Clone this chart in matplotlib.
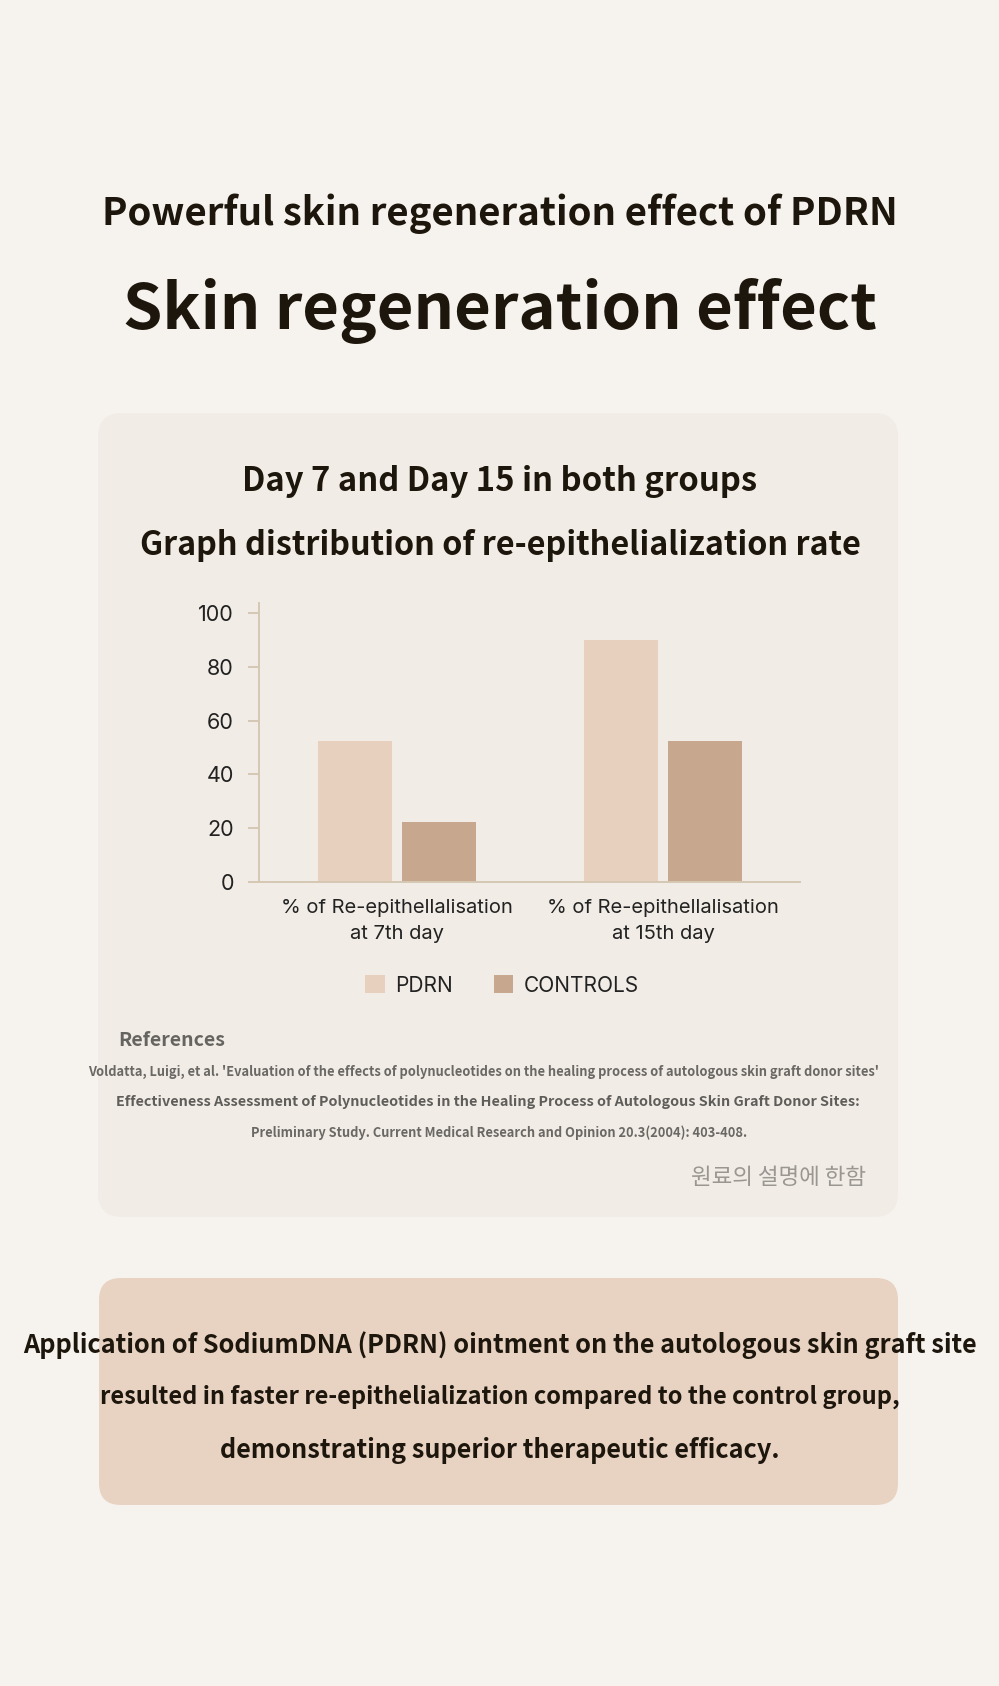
import matplotlib
matplotlib.use("Agg")
import matplotlib.pyplot as plt
from matplotlib.patches import FancyBboxPatch
import numpy as np

# ---- data ----
categories = ["% of Re-epithellalisation\nat 7th day", "% of Re-epithellalisation\nat 15th day"]
pdrn_values = [52.5, 90]
control_values = [22.5, 52.5]
series_names = ["PDRN", "CONTROLS"]
y_ticks = [0, 20, 40, 60, 80, 100]

title_top = "Powerful skin regeneration effect of PDRN"
title_main = "Skin regeneration effect"
chart_heading1 = "Day 7 and Day 15 in both groups"
chart_heading2 = "Graph distribution of re-epithelialization rate"
ref_header = "References"
ref_lines = [
    "Voldatta, Luigi, et al. 'Evaluation of the effects of polynucleotides on the healing process of autologous skin graft donor sites'",
    "Effectiveness Assessment of Polynucleotides in the Healing Process of Autologous Skin Graft Donor Sites:",
    "Preliminary Study. Current Medical Research and Opinion 20.3(2004): 403-408.",
]
korean_note = "원료의 설명에 한함"
summary_lines = [
    "Application of SodiumDNA (PDRN) ointment on the autologous skin graft site",
    "resulted in faster re-epithelialization compared to the control group,",
    "demonstrating superior therapeutic efficacy.",
]

# ---- style ----
W, H = 999, 1686
BG = "#f6f2ed"
CARD = "#f1ece5"
BOX = "#e8d2c2"
C_PDRN = "#e8d0be"
C_CTRL = "#c8a78f"
AXIS_C = "#d5c8b3"
DARK = "#1d160c"
CJK = ["Noto Sans CJK KR", "DejaVu Sans"]
SANS = ["Inter", "DejaVu Sans"]

fig = plt.figure(figsize=(W / 100, H / 100), dpi=100)
fig.patch.set_facecolor(BG)

bg = fig.add_axes([0, 0, 1, 1])
bg.set_xlim(0, W)
bg.set_ylim(H, 0)
bg.axis("off")

# card
bg.add_patch(FancyBboxPatch((98 + 24, 413 + 24), 800 - 48, 804 - 48,
                            boxstyle="round,pad=24", fc=CARD, ec="none"))
# bottom box
bg.add_patch(FancyBboxPatch((99 + 22, 1278 + 22), 799 - 44, 227 - 44,
                            boxstyle="round,pad=22", fc=BOX, ec="none"))

bg.text(W / 2, 214, title_top, ha="center", va="center", fontsize=27.6,
        fontweight="bold", family=CJK, color=DARK)
bg.text(W / 2, 311, title_main, ha="center", va="center", fontsize=45.6,
        fontweight="bold", family=CJK, color=DARK)
bg.text(500, 481, chart_heading1, ha="center", va="center", fontsize=23.6,
        fontweight="bold", family=CJK, color=DARK)
bg.text(500, 546, chart_heading2, ha="center", va="center", fontsize=23.3,
        fontweight="bold", family=CJK, color=DARK)

bg.text(118, 1040, ref_header, ha="left", va="center", fontsize=14,
        fontweight="bold", family=CJK, color="#666460")
bg.text(484, 1072, ref_lines[0], ha="center", va="center", fontsize=9.25,
        fontweight="bold", family=CJK, color="#6a6865")
bg.text(488, 1102, ref_lines[1], ha="center", va="center", fontsize=10.35,
        fontweight="bold", family=CJK, color="#5f5d5a")
bg.text(499, 1133, ref_lines[2], ha="center", va="center", fontsize=9.25,
        fontweight="bold", family=CJK, color="#6a6865")
bg.text(866, 1178, korean_note, ha="right", va="center", fontsize=16.2,
        fontweight="light", family=CJK, color="#9a9793")

for y, line, fs in zip([1345, 1397, 1451], summary_lines, [18.2, 17.0, 18.2]):
    bg.text(W / 2, y, line, ha="center", va="center", fontsize=fs,
            fontweight="bold", family=CJK, color=DARK)

# ---- chart ----
ax_l, ax_r, ax_b, ax_t = 259, 800, 882, 603
ax = fig.add_axes([ax_l / W, (H - ax_b) / H, (ax_r - ax_l) / W, (ax_b - ax_t) / H])
ax.set_facecolor("none")
x = np.arange(len(categories))
bw = 0.276
off = 0.158
ax.bar(x - off, pdrn_values, width=bw, color=C_PDRN, label=series_names[0], zorder=2)
ax.bar(x + off, control_values, width=bw, color=C_CTRL, label=series_names[1], zorder=2)
ax.set_xlim(-0.519, 1.515)
ax.set_ylim(0, 103.8)
ax.set_yticks(y_ticks)
ax.set_yticklabels([str(v) for v in y_ticks], family=SANS, fontsize=15.5, color="#222222")
ax.set_xticks(x)
ax.set_xticklabels(categories, family=SANS, fontsize=14.5, color="#222222", linespacing=1.6)
ax.tick_params(axis="y", length=8, width=1.4, color=AXIS_C, pad=10)
ax.tick_params(axis="x", length=0, pad=12)
for s in ["top", "right"]:
    ax.spines[s].set_visible(False)
for s in ["left", "bottom"]:
    ax.spines[s].set_color(AXIS_C)
    ax.spines[s].set_linewidth(1.4)

leg = ax.legend(loc="upper center", bbox_to_anchor=(0.449, -0.305), ncol=2, frameon=False,
                prop={"family": SANS, "size": 15}, handlelength=0.95, handleheight=0.95,
                columnspacing=1.95, handletextpad=0.5, borderaxespad=0)
for t in leg.get_texts():
    t.set_color("#222222")

fig.savefig("out.png", dpi=100, facecolor=BG)
